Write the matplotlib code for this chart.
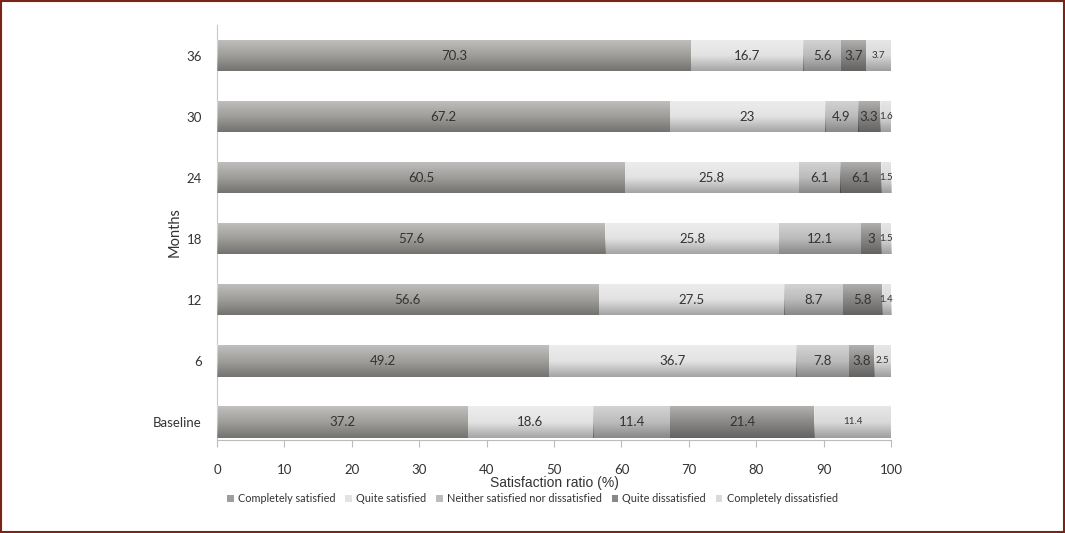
import matplotlib
matplotlib.use('Agg')
import matplotlib.pyplot as plt
import numpy as np

# satisfaction by follow-up month
months = ['Baseline', '6', '12', '18', '24', '30', '36']
completely_satisfied = [37.2, 49.2, 56.6, 57.6, 60.5, 67.2, 70.3]
quite_satisfied = [18.6, 36.7, 27.5, 25.8, 25.8, 23, 16.7]
neither = [11.4, 7.8, 8.7, 12.1, 6.1, 4.9, 5.6]
quite_dissatisfied = [21.4, 3.8, 5.8, 3, 6.1, 3.3, 3.7]
completely_dissatisfied = [11.4, 2.5, 1.4, 1.5, 1.5, 1.6, 3.7]

series_names = ['Completely satisfied', 'Quite satisfied',
                'Neither satisfied nor dissatisfied', 'Quite dissatisfied',
                'Completely dissatisfied']
series = [completely_satisfied, quite_satisfied, neither,
          quite_dissatisfied, completely_dissatisfied]
colors = ['#a09e9b', '#e3e3e3', '#bcbcbc', '#8a8886', '#dadada']
label_sizes = [9.5, 9.5, 9.5, 9.5, 7]

plt.rcParams['font.family'] = ['Lato', 'DejaVu Sans']

fig = plt.figure(figsize=(10.65, 5.33), dpi=100)
ax = fig.add_axes([0.2038, 0.1745, 0.6329, 0.7786])

# vertical shading used on every bar (light at top, dark at bottom)
grad = np.zeros((64, 1, 4))
t = np.linspace(0, 1, 64)
grad[:, 0, :3] = np.where(t[:, None] < 0.5, 1.0, 0.0)
grad[:, 0, 3] = np.where(t < 0.5, 0.35 * (0.5 - t) * 2, 0.28 * (t - 0.5) * 2)

y = np.arange(len(months))
left = np.zeros(len(months))
for i, vals in enumerate(series):
    bars = ax.barh(y, vals, left=left, height=0.52, color=colors[i],
                   label=series_names[i], zorder=2)
    for b, v in zip(bars, vals):
        x0, y0, w, h = b.get_x(), b.get_y(), b.get_width(), b.get_height()
        im = ax.imshow(grad[::-1], extent=(x0, x0 + w, y0, y0 + h), aspect='auto',
                       origin='lower', zorder=3, interpolation='bilinear')
        im.set_clip_path(b)
        ax.text(x0 + w / 2, y0 + h / 2, '%g' % v, ha='center', va='center',
                fontsize=label_sizes[i], color='#333333', zorder=4)
    left += np.array(vals)

ax.set_xlim(0, 100)
ax.set_ylim(-0.3, 6.5)
ax.set_xticks(range(0, 101, 10))
ax.set_yticks(y)
ax.set_yticklabels(months)
ax.tick_params(axis='y', length=0, pad=11, labelsize=9.5, labelcolor='#333333')
ax.tick_params(axis='x', direction='out', length=5, width=0.8, color='#bbbbbb',
               pad=12, labelsize=9.5, labelcolor='#333333')
for s in ['top', 'right']:
    ax.spines[s].set_visible(False)
ax.spines['left'].set_color('#c8c8c8')
ax.spines['bottom'].set_color('#bbbbbb')

ax.set_xlabel('Satisfaction ratio (%)', fontsize=10, color='#333333',
              family=['Liberation Sans Narrow', 'Liberation Sans', 'DejaVu Sans'])
ax.xaxis.set_label_coords(0.5, -0.087)
ax.set_ylabel('Months', fontsize=10.5, color='#333333')
ax.yaxis.set_label_coords(-0.052, 0.5)

handles, labels = ax.get_legend_handles_labels()
leg = fig.legend(handles, labels, loc='center', bbox_to_anchor=(0.5, 0.064),
                 ncol=5, frameon=False, fontsize=7.8, handlelength=0.6,
                 handleheight=0.6, handletextpad=0.4, columnspacing=0.9)
for t_ in leg.get_texts():
    t_.set_color('#333333')

# dark red frame round the figure
fig.patches.append(plt.Rectangle((0.001, 0.002), 0.998, 0.996,
                                 transform=fig.transFigure, fill=False,
                                 edgecolor='#7a2418', linewidth=1.5))

fig.savefig('out.png', dpi=100)
